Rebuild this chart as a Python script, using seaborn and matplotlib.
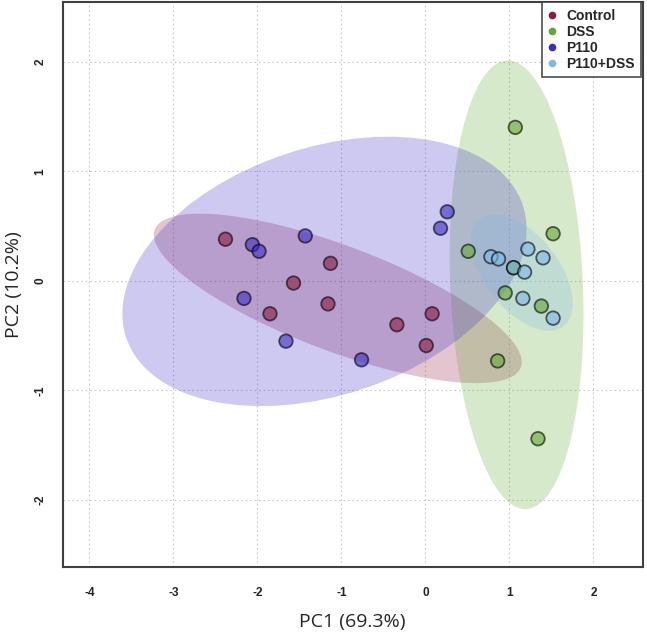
import numpy as np
import pandas as pd
import matplotlib
matplotlib.use("Agg")
import matplotlib.pyplot as plt
from matplotlib.patches import Ellipse
from matplotlib.lines import Line2D
import seaborn as sns

# PCA scores
groups = ["Control", "DSS", "P110", "P110+DSS"]
colors = ["#8E1B3F", "#62A833", "#3B2BC7", "#7DB8EA"]

control_pc1 = [-2.38, -1.13, -1.57, -1.16, -1.85, -0.34, 0.08, 0.01]
control_pc2 = [0.38, 0.16, -0.02, -0.21, -0.30, -0.40, -0.30, -0.59]
dss_pc1 = [0.51, 1.52, 1.05, 0.95, 1.38, 0.86, 1.07, 1.34]
dss_pc2 = [0.27, 0.43, 0.12, -0.11, -0.23, -0.73, 1.40, -1.44]
p110_pc1 = [-2.06, -1.98, -1.43, -2.16, -1.66, -0.76, 0.26, 0.18]
p110_pc2 = [0.33, 0.27, 0.41, -0.16, -0.55, -0.72, 0.63, 0.48]
p110dss_pc1 = [0.78, 0.87, 1.22, 1.40, 1.05, 1.18, 1.16, 1.52]
p110dss_pc2 = [0.22, 0.20, 0.29, 0.21, 0.12, 0.08, -0.16, -0.34]

pc1 = [control_pc1, dss_pc1, p110_pc1, p110dss_pc1]
pc2 = [control_pc2, dss_pc2, p110_pc2, p110dss_pc2]

df = pd.concat([
    pd.DataFrame({"PC1": x, "PC2": y, "group": g})
    for g, x, y in zip(groups, pc1, pc2)
], ignore_index=True)

sns.set_style("white")
plt.rcParams["font.family"] = ["Liberation Sans", "DejaVu Sans"]
plt.rcParams["axes.unicode_minus"] = False

fig = plt.figure(figsize=(6.47, 6.34), dpi=100)
ax = fig.add_axes([0.0966, 0.1057, 0.8972, 0.8905])

# 95% confidence ellipses per group
chi2_95 = 5.991
for g, c in zip(groups, colors):
    sub = df[df["group"] == g]
    xy = sub[["PC1", "PC2"]].to_numpy()
    mu = xy.mean(axis=0)
    cov = np.cov(xy, rowvar=False)
    vals, vecs = np.linalg.eigh(cov)
    order = vals.argsort()[::-1]
    vals, vecs = vals[order], vecs[:, order]
    ang = np.degrees(np.arctan2(vecs[1, 0], vecs[0, 0]))
    w, h = 2 * np.sqrt(vals * chi2_95)
    ax.add_patch(Ellipse(mu, w, h, angle=ang, facecolor=c, alpha=0.25,
                         edgecolor="none", zorder=1))

sns.scatterplot(data=df, x="PC1", y="PC2", hue="group", hue_order=groups,
                palette=colors, s=95, alpha=0.6, edgecolor="black",
                linewidth=1.3, legend=False, ax=ax, zorder=3)

ax.set_xlim(-4.32, 2.59)
ax.set_ylim(-2.61, 2.54)
ax.set_xticks([-4, -3, -2, -1, 0, 1, 2])
ax.set_yticks([-2, -1, 0, 1, 2])
ax.grid(True, color="#c8c8c8", linestyle=(0, (1.5, 2.5)), linewidth=0.8)
ax.set_axisbelow(True)
for sp in ax.spines.values():
    sp.set_color("#404040")
    sp.set_linewidth(1.5)
ax.tick_params(axis="both", direction="out", length=6.5, width=1.1,
               color="#404040", labelsize=8.5, labelcolor="#222222")
ax.tick_params(axis="x", pad=8)
ax.tick_params(axis="y", pad=5)
plt.setp(ax.get_xticklabels(), fontweight="bold")
plt.setp(ax.get_yticklabels(), rotation=90, va="center", fontweight="bold")
ax.set_xlabel("PC1 (69.3%)", fontsize=14, labelpad=10,
              family=["Open Sans", "DejaVu Sans"])
ax.set_ylabel("PC2 (10.2%)", fontsize=14, labelpad=8,
              family=["Open Sans", "DejaVu Sans"])

handles = [Line2D([], [], marker="o", linestyle="none", markersize=5.5,
                  markerfacecolor=c, markeredgecolor="none", label=g)
           for g, c in zip(groups, colors)]
leg = ax.legend(handles=handles, loc="upper right", frameon=True,
                bbox_to_anchor=(641 / 647, 1 - 2.4 / 634),
                bbox_transform=fig.transFigure,
                prop={"weight": "bold", "size": 10}, handletextpad=0.7,
                borderaxespad=0.0, labelspacing=0.15, fancybox=False,
                handlelength=0.6, borderpad=0.45)
leg.get_frame().set_edgecolor("#333333")
leg.get_frame().set_linewidth(1.3)

fig.savefig("out.png", dpi=100)
